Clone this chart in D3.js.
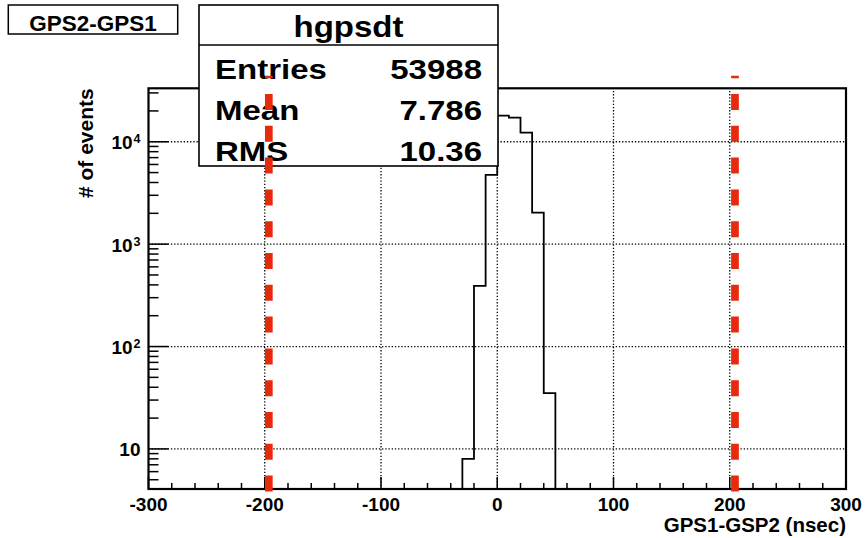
<!DOCTYPE html>
<html>
<head>
<meta charset="utf-8">
<script src="https://cdn.jsdelivr.net/npm/d3@7"></script>
<style>
  body { margin: 0; background: #fff; }
  svg { display: block; }
  text { font-family: "Liberation Sans", Arial, Helvetica, sans-serif; font-weight: bold; fill: #000; }
</style>
</head>
<body>
<svg id="chart"></svg>
<script>
// histogram of GPS1-GPS2 time difference, 10 nsec bins
const BIN_EDGES = [-30, -20, -10, 0, 10, 20, 30, 40, 50];
const BIN_COUNTS = [8, 391, 4740, 17990, 17180, 12270, 2030, 35];

const X_DOMAIN = [-300, 300];
const Y_DOMAIN = [4.06, 33270];
const X_LABELS = [-300, -200, -100, 0, 100, 200, 300];
const Y_EXPONENTS = [1, 2, 3, 4];

// red dashed cut lines
const CUT_X = [-196.5, 204.5];
const CUT_Y = [3.83, 44200];

const HIST_NAME = "hgpsdt";
const STATS_ROWS = [["Entries", "53988"], ["Mean", "7.786"], ["RMS", "10.36"]];
const TITLE = "GPS2-GPS1";
const X_TITLE = "GPS1-GSP2 (nsec)";
const Y_TITLE = "# of events";

function set_size(selection, width, height){
  return selection.attr("width", width).attr("height", height);
}

const W = 865, H = 538;
const FRAME = {left: 148.5, right: 846, top: 88.3, bottom: 489};

const svg = d3.select("#chart").call(set_size, W, H);

const x = d3.scaleLinear().domain(X_DOMAIN).range([FRAME.left, FRAME.right]);
const y = d3.scaleLog().domain(Y_DOMAIN).range([FRAME.bottom, FRAME.top]);

// grid
const GRID = svg.append("g").attr("class", "grid")
  .attr("stroke", "#000").attr("stroke-width", 1.3).attr("stroke-dasharray", "1.3,1.9");
GRID.selectAll("line.gx")
  .data(X_LABELS.filter(v => v > X_DOMAIN[0] && v < X_DOMAIN[1]))
  .enter().append("line")
    .attr("class", "gx")
    .attr("x1", d => x(d)).attr("x2", d => x(d))
    .attr("y1", FRAME.bottom).attr("y2", FRAME.top);
GRID.selectAll("line.gy")
  .data(Y_EXPONENTS)
  .enter().append("line")
    .attr("class", "gy")
    .attr("x1", FRAME.left).attr("x2", FRAME.right)
    .attr("y1", d => y(Math.pow(10, d))).attr("y2", d => y(Math.pow(10, d)));

// histogram outline
const hist_points = [[BIN_EDGES[0], Y_DOMAIN[0]]];
BIN_COUNTS.forEach((c, i) => {
  hist_points.push([BIN_EDGES[i], c]);
  hist_points.push([BIN_EDGES[i + 1], c]);
});
hist_points.push([BIN_EDGES[BIN_EDGES.length - 1], Y_DOMAIN[0]]);

const hist_line = d3.line()
  .x(d => x(d[0]))
  .y(d => y(Math.max(d[1], Y_DOMAIN[0])));

svg.append("path")
  .datum(hist_points)
  .attr("d", hist_line)
  .attr("fill", "none")
  .attr("stroke", "#000")
  .attr("stroke-width", 1.8);

// axes: ticks drawn by hand, ROOT style (ticks inside the frame)
const AXES = svg.append("g").attr("stroke", "#000");

const x_minor = d3.range(X_DOMAIN[0], X_DOMAIN[1] + 1, 20).filter(v => v % 100 != 0);
AXES.selectAll("line.xt")
  .data(X_LABELS.map(v => [v, 12]).concat(x_minor.map(v => [v, 6])))
  .enter().append("line")
    .attr("x1", d => x(d[0])).attr("x2", d => x(d[0]))
    .attr("y1", FRAME.bottom).attr("y2", d => FRAME.bottom - d[1])
    .attr("stroke-width", 1.5);

const y_ticks = [];
for (let e = 0; e <= 4; e++){
  for (let m = 1; m <= 9; m++){
    const v = m * Math.pow(10, e);
    if (v >= Y_DOMAIN[0] && v <= Y_DOMAIN[1]) y_ticks.push([v, m == 1 ? 20 : 10]);
  }
}
AXES.selectAll("line.yt")
  .data(y_ticks)
  .enter().append("line")
    .attr("x1", FRAME.left).attr("x2", d => FRAME.left + d[1])
    .attr("y1", d => y(d[0])).attr("y2", d => y(d[0]))
    .attr("stroke-width", 1.5);

// frame
svg.append("rect")
  .attr("x", FRAME.left).attr("y", FRAME.top)
  .call(set_size, FRAME.right - FRAME.left, FRAME.bottom - FRAME.top)
  .attr("fill", "none")
  .attr("stroke", "#000")
  .attr("stroke-width", 2.2);

// tick labels
svg.append("g").selectAll("text")
  .data(X_LABELS)
  .enter().append("text")
    .attr("x", d => x(d))
    .attr("y", FRAME.bottom + 21.5)
    .attr("text-anchor", "middle")
    .style("font-size", "19px")
    .text(d => d);

const YL = svg.append("g").selectAll("text")
  .data(Y_EXPONENTS)
  .enter().append("text")
    .attr("x", FRAME.left - 8)
    .attr("y", d => y(Math.pow(10, d)) + 7.5)
    .attr("text-anchor", "end")
    .style("font-size", "19px");
YL.append("tspan").text("10");
YL.filter(d => d > 1).append("tspan")
  .attr("dy", -6)
  .attr("dx", 1)
  .style("font-size", "12.5px")
  .text(d => d);

// axis titles
svg.append("text")
  .attr("x", FRAME.right)
  .attr("y", 532)
  .attr("text-anchor", "end")
  .style("font-size", "20.5px")
  .text(X_TITLE);

svg.append("text")
  .attr("transform", "translate(93.3," + FRAME.top + ") rotate(-90)")
  .attr("text-anchor", "end")
  .style("font-size", "21px")
  .text(Y_TITLE);

// title box
const TITLE_BOX = svg.append("g");
TITLE_BOX.append("rect")
  .attr("x", 8.3).attr("y", 5)
  .call(set_size, 169.4, 29)
  .attr("fill", "#fff").attr("stroke", "#000").attr("stroke-width", 1.5);
TITLE_BOX.append("text")
  .attr("x", 93).attr("y", 30.5)
  .attr("text-anchor", "middle")
  .style("font-size", "22.5px")
  .text(TITLE);

// stats box
const STATS_BOX = svg.append("g");
STATS_BOX.append("rect")
  .attr("x", 199).attr("y", 5)
  .call(set_size, 299, 161)
  .attr("fill", "#fff").attr("stroke", "#000").attr("stroke-width", 1.6);
STATS_BOX.append("line")
  .attr("x1", 199).attr("x2", 498)
  .attr("y1", 45).attr("y2", 45)
  .attr("stroke", "#000").attr("stroke-width", 1.6);
STATS_BOX.append("text")
  .attr("transform", "translate(348.5,36.5) scale(1.1,1)")
  .attr("text-anchor", "middle")
  .style("font-size", "30px")
  .text(HIST_NAME);

const ROWS = STATS_BOX.selectAll("g.row")
  .data(STATS_ROWS)
  .enter().append("g")
    .attr("class", "row")
    .attr("transform", (d, i) => "translate(0," + (79.3 + i * 40.8) + ")");
ROWS.append("text")
  .attr("transform", "translate(215,0) scale(1.2,1)")
  .style("font-size", "27.5px")
  .text(d => d[0]);
ROWS.append("text")
  .attr("transform", "translate(482,0) scale(1.2,1)")
  .attr("text-anchor", "end")
  .style("font-size", "27.5px")
  .text(d => d[1]);

// red dashed cut lines, drawn bottom to top
svg.append("g").selectAll("line")
  .data(CUT_X)
  .enter().append("line")
    .attr("x1", d => x(d)).attr("x2", d => x(d))
    .attr("y1", y(CUT_Y[0])).attr("y2", y(CUT_Y[1]))
    .attr("stroke", "#e8290b")
    .attr("stroke-width", 7.7)
    .attr("stroke-dasharray", "16,15.8");
</script>
</body>
</html>
